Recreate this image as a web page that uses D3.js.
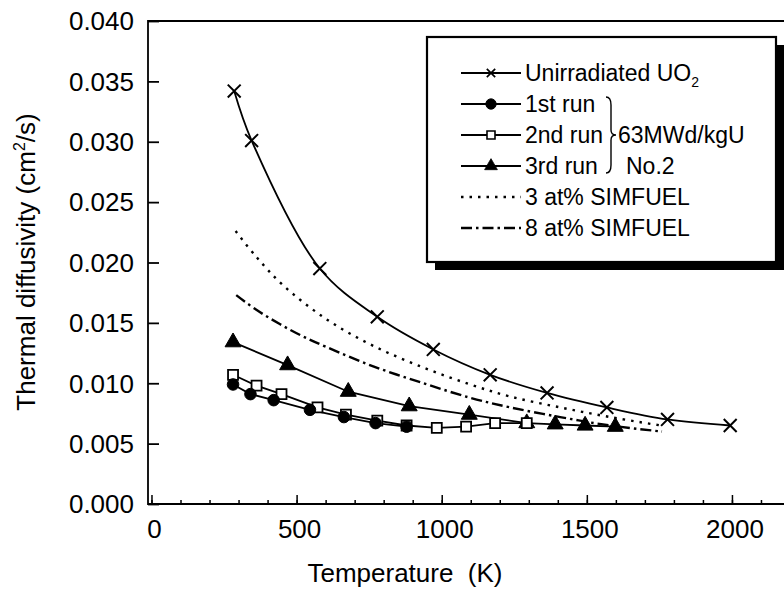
<!DOCTYPE html>
<html>
<head>
<meta charset="utf-8">
<title>Thermal diffusivity</title>
<script src="https://cdn.jsdelivr.net/npm/d3@7"></script>
<style>
  html, body { margin: 0; background: #fff; }
  text { font-family: "Liberation Sans", Arial, sans-serif; fill: #000; }
</style>
</head>
<body>
<svg width="784" height="594"></svg>
<script>
// tick values
var xTicks = [0, 500, 1000, 1500, 2000];
var xMinor = d3.range(0, 2201, 100);
var yTicks = [0, 0.005, 0.010, 0.015, 0.020, 0.025, 0.030, 0.035, 0.040];

// unirradiated UO2 (crosses)
var unirrT = [285, 345, 580, 778, 971, 1167, 1363, 1569, 1778, 1994];
var unirrD = [0.0342, 0.0301, 0.0195, 0.0155, 0.0128, 0.0107, 0.0092, 0.0080, 0.0070, 0.0065];

// 63MWd/kgU No.2
var run1T = [281, 341, 421, 546, 663, 772, 879];
var run1D = [0.0099, 0.0091, 0.0086, 0.0078, 0.0072, 0.0067, 0.0064];
var run2T = [281, 362, 448, 572, 670, 778, 879, 983, 1084, 1184, 1293];
var run2D = [0.0107, 0.0098, 0.0091, 0.0080, 0.0074, 0.0069, 0.0065, 0.0063, 0.0064, 0.0067, 0.0067];
var run3T = [281, 469, 678, 888, 1095, 1293, 1391, 1494, 1598];
var run3D = [0.0134, 0.0115, 0.0093, 0.0081, 0.0074, 0.0067, 0.0066, 0.0065, 0.0064];

// SIMFUEL curves
var sim3T = [290, 360, 454, 603, 764, 937, 1098, 1236, 1408, 1580, 1755];
var sim3D = [0.0226, 0.0205, 0.0181, 0.0153, 0.0131, 0.0113, 0.0099, 0.0089, 0.0080, 0.0072, 0.0065];
var sim8T = [292, 360, 442, 520, 603, 764, 937, 1098, 1236, 1408, 1580, 1759];
var sim8D = [0.0173, 0.0161, 0.0149, 0.0139, 0.0130, 0.0114, 0.0100, 0.0088, 0.0080, 0.0072, 0.0065, 0.0060];

var legendLabels = ["Unirradiated UO", "1st run", "2nd run", "3rd run", "3 at% SIMFUEL", "8 at% SIMFUEL"];

var svg = d3.select("svg");
var pLeft = 148, pTop = 21, pBottom = 504, pRight = 790;

var x = d3.scaleLinear().domain([-12, 2200]).range([pLeft, pRight]);
var y = d3.scaleLinear().domain([0, 0.04]).range([pBottom, pTop]);

function zip(a, b) { return a.map(function(v, i) { return [v, b[i]]; }); }

// frame
svg.append("path")
    .attr("d", "M" + pRight + "," + pTop + "H" + pLeft + "V" + pBottom + "H" + pRight)
    .attr("fill", "none").attr("stroke", "#000").attr("stroke-width", 1.8);

// y axis, ticks inside
var yAxis = svg.append("g").attr("transform", "translate(" + pLeft + ",0)")
    .call(d3.axisRight(y).tickValues(yTicks).tickSize(11).tickFormat(""));
yAxis.select(".domain").remove();
yAxis.selectAll("line").attr("stroke-width", 1.8);
svg.append("g").selectAll("text").data(yTicks).enter().append("text")
    .attr("x", 134).attr("y", function(d) { return y(d); })
    .attr("dy", "0.36em").attr("text-anchor", "end")
    .style("font-size", "26px")
    .text(function(d) { return d3.format(".3f")(d); });

// x axis, minor + major ticks inside
var xAxis = svg.append("g").attr("transform", "translate(0," + pBottom + ")");
xAxis.call(d3.axisTop(x).tickValues(xMinor).tickSize(4).tickFormat(""));
xAxis.select(".domain").remove();
xAxis.selectAll("line").attr("stroke-width", 1.5);
var xMajor = svg.append("g").attr("transform", "translate(0," + pBottom + ")")
    .call(d3.axisTop(x).tickValues(xTicks).tickSize(9).tickFormat(""));
xMajor.select(".domain").remove();
xMajor.selectAll("line").attr("stroke-width", 1.5);
svg.append("g").selectAll("text").data(xTicks).enter().append("text")
    .attr("x", function(d) { return x(d) + 3; }).attr("y", 538)
    .attr("text-anchor", "middle")
    .style("font-size", "26px")
    .text(function(d) { return d; });

// axis titles
svg.append("text").attr("x", 405).attr("y", 582).attr("text-anchor", "middle")
    .style("font-size", "26px").attr("xml:space", "preserve")
    .text("Temperature  (K)");
var yt = svg.append("text").attr("transform", "translate(35,262) rotate(-90)")
    .attr("text-anchor", "middle").style("font-size", "26px");
yt.append("tspan").text("Thermal diffusivity (cm");
yt.append("tspan").attr("dy", -10).style("font-size", "16px").text("2");
yt.append("tspan").attr("dy", 10).text("/s)");

// curves
var smooth = d3.line().x(function(d) { return x(d[0]); }).y(function(d) { return y(d[1]); })
    .curve(d3.curveCatmullRom.alpha(0.5));
var straight = d3.line().x(function(d) { return x(d[0]); }).y(function(d) { return y(d[1]); });

svg.append("path").datum(zip(sim3T, sim3D)).attr("d", smooth)
    .attr("fill", "none").attr("stroke", "#000").attr("stroke-width", 2.4)
    .attr("stroke-dasharray", "2.5,6");
svg.append("path").datum(zip(sim8T, sim8D)).attr("d", smooth)
    .attr("fill", "none").attr("stroke", "#000").attr("stroke-width", 2.4)
    .attr("stroke-dasharray", "11,4,2.5,4");
svg.append("path").datum(zip(unirrT, unirrD)).attr("d", smooth)
    .attr("fill", "none").attr("stroke", "#000").attr("stroke-width", 1.8);

[[run3T, run3D], [run2T, run2D], [run1T, run1D]].forEach(function(s) {
  svg.append("path").datum(zip(s[0], s[1])).attr("d", straight)
      .attr("fill", "none").attr("stroke", "#000").attr("stroke-width", 1.8);
});

var crossSym = d3.symbol().type(d3.symbolX).size(110);
var triSym = d3.symbol().type(d3.symbolTriangle).size(110);
var circSym = d3.symbol().type(d3.symbolCircle).size(105);
var sqSym = d3.symbol().type(d3.symbolSquare).size(100);

function markers(pts, sym, fill, sw) {
  svg.append("g").selectAll("path").data(pts).enter().append("path")
      .attr("transform", function(d) { return "translate(" + x(d[0]) + "," + y(d[1]) + ")"; })
      .attr("d", sym).attr("fill", fill).attr("stroke", "#000").attr("stroke-width", sw);
}
markers(zip(unirrT, unirrD), crossSym, "none", 2);
markers(zip(run3T, run3D), triSym, "#000", 1);
markers(zip(run2T, run2D), sqSym, "#fff", 1.8);
markers(zip(run1T, run1D), circSym, "#000", 1);

// legend
var lg = svg.append("g");
var bx = 427, by = 37, bw = 349, bh = 225;
lg.append("rect").attr("x", bx + 8).attr("y", by + 8).attr("width", bw).attr("height", bh).attr("fill", "#000");
lg.append("rect").attr("x", bx).attr("y", by).attr("width", bw).attr("height", bh)
    .attr("fill", "#fff").attr("stroke", "#000").attr("stroke-width", 2.2);

var rowY = function(i) { return 73 + i * 31; };
var syms = [crossSym, circSym, sqSym, triSym];
var fills = ["none", "#000", "#fff", "#000"];
var legSym = [0.65, 0.9, 0.8, 0.8];
legendLabels.forEach(function(lab, i) {
  var yy = rowY(i);
  var ln = lg.append("line").attr("x1", 461).attr("x2", 521).attr("y1", yy).attr("y2", yy)
      .attr("stroke", "#000").attr("stroke-width", i < 4 ? 1.8 : 2.4);
  if (i === 4) ln.attr("stroke-dasharray", "2.5,6");
  if (i === 5) ln.attr("stroke-dasharray", "11,4,2.5,4");
  if (i < 4) {
    lg.append("path").attr("transform", "translate(491," + yy + ") scale(" + legSym[i] + ")").attr("d", syms[i])
        .attr("fill", fills[i]).attr("stroke", "#000").attr("stroke-width", i === 0 ? 2.6 : (i === 2 ? 2 : 1));
  }
  var t = lg.append("text").attr("x", 525).attr("y", yy).attr("dy", "0.36em").style("font-size", "23px");
  t.append("tspan").text(lab);
  if (i === 0) t.append("tspan").attr("dy", 6).style("font-size", "14px").text("2");
});

// brace for runs 1-3
var b0 = rowY(1) - 7, b1 = rowY(3) + 7, bxp = 606, mid = (b0 + b1) / 2;
lg.append("path")
    .attr("d", "M" + bxp + "," + b0 + " Q" + (bxp + 5) + "," + b0 + " " + (bxp + 5) + "," + (b0 + 8) +
         " L" + (bxp + 5) + "," + (mid - 5) + " Q" + (bxp + 5) + "," + mid + " " + (bxp + 10) + "," + mid +
         " Q" + (bxp + 5) + "," + mid + " " + (bxp + 5) + "," + (mid + 5) +
         " L" + (bxp + 5) + "," + (b1 - 8) + " Q" + (bxp + 5) + "," + b1 + " " + bxp + "," + b1)
    .attr("fill", "none").attr("stroke", "#000").attr("stroke-width", 1.4);
lg.append("text").attr("x", 618).attr("y", rowY(2)).attr("dy", "0.36em").style("font-size", "23px").text("63MWd/kgU");
lg.append("text").attr("x", 626).attr("y", rowY(3)).attr("dy", "0.36em").style("font-size", "23px").text("No.2");
</script>
</body>
</html>
